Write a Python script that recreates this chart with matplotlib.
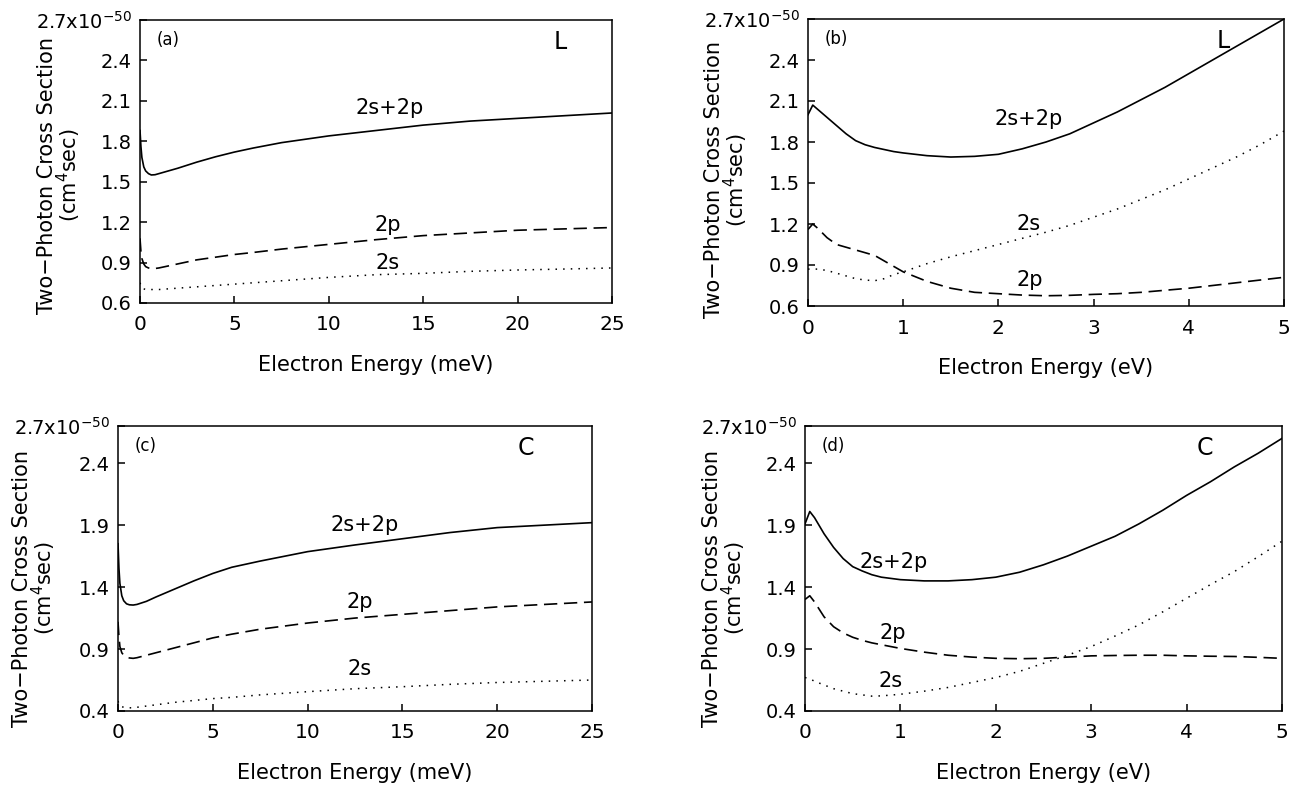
import numpy as np
import matplotlib
matplotlib.use('Agg')
from matplotlib import pyplot as plt

plt.rcParams['font.family'] = ['DejaVu Sans']

# panels (a) and (c): electron energy in meV
x_mev = [0, 0.05, 0.1, 0.2, 0.3, 0.45, 0.6, 0.8, 1, 1.5, 2, 3, 4, 5, 6, 7.5,
         10, 12.5, 15, 17.5, 20, 22.5, 25]
# panel (a): L
a_sum = [1.88, 1.76, 1.68, 1.61, 1.58, 1.56, 1.55, 1.552, 1.56, 1.58, 1.60, 1.645,
         1.685, 1.72, 1.75, 1.79, 1.84, 1.88, 1.92, 1.95, 1.97, 1.99, 2.01]
a_2p = [1.08, 0.98, 0.93, 0.89, 0.87, 0.86, 0.855, 0.856, 0.86, 0.875, 0.89, 0.92,
        0.94, 0.96, 0.975, 1.00, 1.035, 1.07, 1.10, 1.12, 1.14, 1.15, 1.16]
a_2s = [0.75, 0.73, 0.71, 0.705, 0.70, 0.70, 0.70, 0.70, 0.70, 0.705, 0.71, 0.72,
        0.73, 0.74, 0.75, 0.765, 0.79, 0.81, 0.82, 0.835, 0.845, 0.852, 0.86]
# panel (c): C
c_sum = [1.75, 1.55, 1.43, 1.33, 1.29, 1.265, 1.257, 1.255, 1.26, 1.285, 1.32, 1.385,
         1.45, 1.51, 1.56, 1.61, 1.686, 1.74, 1.79, 1.84, 1.88, 1.90, 1.92]
c_2p = [1.12, 1.00, 0.92, 0.87, 0.85, 0.835, 0.828, 0.825, 0.83, 0.85, 0.87, 0.91,
        0.95, 0.99, 1.02, 1.06, 1.11, 1.15, 1.18, 1.21, 1.24, 1.26, 1.28]
c_2s = [0.48, 0.46, 0.44, 0.435, 0.43, 0.428, 0.426, 0.425, 0.43, 0.44, 0.45, 0.47,
        0.485, 0.50, 0.51, 0.53, 0.556, 0.58, 0.596, 0.615, 0.63, 0.64, 0.65]

# panel (b): L, eV
x_b = [0, 0.05, 0.1, 0.2, 0.3, 0.4, 0.5, 0.6, 0.7, 0.8, 0.9, 1.0, 1.25, 1.5, 1.75, 2.0,
       2.25, 2.5, 2.75, 3.0, 3.25, 3.5, 3.75, 4.0, 4.25, 4.5, 4.75, 5.0]
b_sum = [2.00, 2.07, 2.04, 1.98, 1.92, 1.86, 1.81, 1.78, 1.76, 1.745, 1.73, 1.72, 1.70, 1.69,
         1.695, 1.71, 1.75, 1.80, 1.86, 1.94, 2.02, 2.11, 2.20, 2.30, 2.40, 2.50, 2.60, 2.70]
b_2p = [1.16, 1.20, 1.17, 1.10, 1.05, 1.03, 1.01, 0.99, 0.97, 0.93, 0.89, 0.85, 0.78, 0.73,
        0.70, 0.69, 0.68, 0.675, 0.678, 0.685, 0.69, 0.70, 0.715, 0.73, 0.75, 0.77, 0.79, 0.81]
b_2s = [0.87, 0.87, 0.87, 0.86, 0.84, 0.82, 0.80, 0.79, 0.785, 0.80, 0.83, 0.85, 0.91, 0.96,
        1.005, 1.05, 1.095, 1.14, 1.19, 1.25, 1.31, 1.38, 1.45, 1.53, 1.61, 1.69, 1.78, 1.88]

# panel (d): C, eV
x_d = [0, 0.05, 0.1, 0.2, 0.3, 0.4, 0.5, 0.6, 0.7, 0.8, 1.0, 1.25, 1.5, 1.75, 2.0,
       2.25, 2.5, 2.75, 3.0, 3.25, 3.5, 3.75, 4.0, 4.25, 4.5, 4.75, 5.0]
d_sum = [1.91, 2.01, 1.96, 1.83, 1.72, 1.63, 1.565, 1.53, 1.50, 1.48, 1.46, 1.45, 1.45, 1.46,
         1.48, 1.52, 1.58, 1.65, 1.73, 1.81, 1.91, 2.02, 2.14, 2.25, 2.37, 2.48, 2.60]
d_2p = [1.30, 1.33, 1.28, 1.16, 1.08, 1.03, 0.995, 0.97, 0.95, 0.935, 0.905, 0.875, 0.85,
        0.835, 0.825, 0.822, 0.825, 0.835, 0.845, 0.848, 0.85, 0.85, 0.845, 0.842, 0.84,
        0.833, 0.825]
d_2s = [0.67, 0.66, 0.64, 0.61, 0.58, 0.56, 0.54, 0.53, 0.52, 0.522, 0.535, 0.56, 0.59, 0.63,
        0.67, 0.72, 0.785, 0.85, 0.92, 1.005, 1.095, 1.20, 1.31, 1.42, 1.525, 1.645, 1.77]

yticks_L = [0.6, 0.9, 1.2, 1.5, 1.8, 2.1, 2.4, 2.7]
yticks_C = [0.4, 0.9, 1.4, 1.9, 2.4, 2.7]

# tag, letter, x, curves, xmax, xticks, xlabel, ylim, yticks, label positions (2s+2p, 2p, 2s),
# axes box in pixels, letter x, ylabel coords
panels = [
    ('(a)', 'L', x_mev, a_sum, a_2p, a_2s, 25, [0, 5, 10, 15, 20, 25], 'Electron Energy (meV)', (0.6, 2.7), yticks_L,
     [(13.2, 2.05), (13.1, 1.18), (13.1, 0.90)], [140, 20, 612, 303], 0.89, (-0.121, 0.45)),
    ('(b)', 'L', x_b, b_sum, b_2p, b_2s, 5, [0, 1, 2, 3, 4, 5], 'Electron Energy (eV)', (0.6, 2.7), yticks_L,
     [(2.32, 1.97), (2.33, 0.79), (2.32, 1.20)], [808, 19, 1284, 306], 0.872, (-0.122, 0.44)),
    ('(c)', 'C', x_mev, c_sum, c_2p, c_2s, 25, [0, 5, 10, 15, 20, 25], 'Electron Energy (meV)', (0.4, 2.7), yticks_C,
     [(13.0, 1.90), (12.75, 1.28), (12.75, 0.74)], [118, 426, 592, 711], 0.861, (-0.127, 0.43)),
    ('(d)', 'C', x_d, d_sum, d_2p, d_2s, 5, [0, 1, 2, 3, 4, 5], 'Electron Energy (eV)', (0.4, 2.7), yticks_C,
     [(0.93, 1.605), (0.92, 1.03), (0.90, 0.645)], [805, 426, 1282, 711], 0.839, (-0.119, 0.43)),
]

W, H = 1301, 787
fig = plt.figure(figsize=(W / 100, H / 100), dpi=100)

for (tag, letter, x, ysum, y2p, y2s, xmax, xt, xlab, ylim, yt,
     lab_pos, box, letter_x, ylab_xy) in panels:
    l, t, r, b = box
    ax = fig.add_axes([l / W, 1 - b / H, (r - l) / W, (b - t) / H])
    ax.plot(x, ysum, color='black', lw=1.2, solid_joinstyle='round')
    ax.plot(x, y2p, color='black', lw=1.2, linestyle=(0, (8, 4)))
    ax.plot(x, y2s, color='black', lw=1.1, linestyle=(0, (1, 4)))
    ax.set_xlim(0, xmax)
    ax.set_ylim(*ylim)
    ax.set_xticks(xt)
    ax.set_yticks(yt)
    ax.set_yticklabels([f'{v:.1f}' for v in yt[:-1]] + ['2.7x10$^{-50}$'])
    ax.tick_params(axis='y', direction='in', length=5, width=1.1, labelsize=14, pad=6)
    ax.tick_params(axis='x', direction='in', length=5, width=1.1, labelsize=14.5, pad=9)
    for s in ax.spines.values():
        s.set_linewidth(1.1)
    ax.set_xlabel(xlab, fontsize=15, labelpad=15)
    ax.set_ylabel('Two\u2212Photon Cross Section\n(cm$^4$sec)', fontsize=15, linespacing=0.9)
    ax.yaxis.set_label_coords(*ylab_xy)
    ax.text(0.035, 0.96, tag, transform=ax.transAxes, fontsize=12, va='top')
    ax.text(letter_x, 0.965, letter, transform=ax.transAxes, fontsize=17, va='top', ha='center')
    for (px, py), name in zip(lab_pos, ['2s+2p', '2p', '2s']):
        ax.text(px, py, name, fontsize=15, ha='center', va='center')

fig.savefig('out.png', dpi=100)
